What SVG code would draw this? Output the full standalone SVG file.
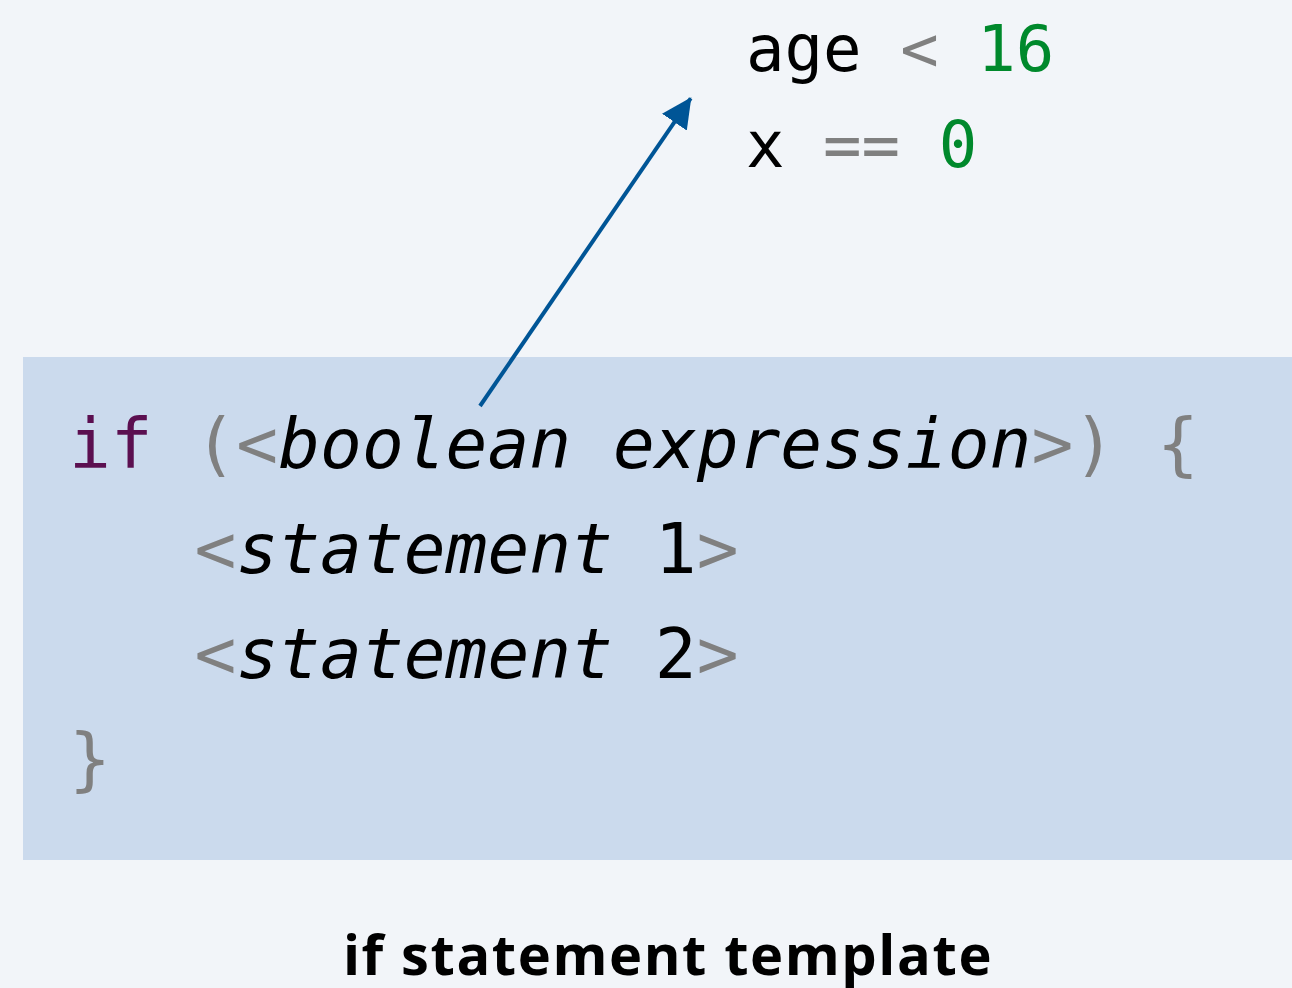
<svg xmlns="http://www.w3.org/2000/svg" width="1292" height="988" viewBox="0 0 1292 988">
<defs>
<style>
.code{font-family:"DejaVu Sans Mono",monospace;white-space:pre;fill:#000}
.big{font-size:69.5px}
.small{font-size:64px}
.kw{fill:#5b0f50}
.op{fill:#808080}
.num{fill:#00892c}
.it{font-style:italic}
.title{font-family:"Open Sans","Liberation Sans",sans-serif;font-weight:bold;font-size:56px;letter-spacing:1.6px;fill:#000}
.conn{stroke:#005596;stroke-width:4;fill:none}
</style>
<marker id="ah" markerUnits="userSpaceOnUse" markerWidth="30" markerHeight="30" viewBox="0 0 26 26" refX="25" refY="13" orient="auto">
<path d="M0,0 L26,13 L0,26 Z" fill="#005596"/>
</marker>
</defs>
<rect width="1292" height="988" fill="#f2f5f9"/>
<g id="template-box">
<rect x="23" y="357" width="1269" height="503" fill="#cbdaed"/>
<text class="code big" x="69" y="468"><tspan class="kw">if</tspan><tspan class="op"> (&lt;</tspan><tspan class="it">boolean expression</tspan><tspan class="op">&gt;) {</tspan></text>
<text class="code big" x="69" y="573"><tspan class="op">   &lt;</tspan><tspan class="it">statement</tspan> 1<tspan class="op">&gt;</tspan></text>
<text class="code big" x="69" y="678"><tspan class="op">   &lt;</tspan><tspan class="it">statement</tspan> 2<tspan class="op">&gt;</tspan></text>
<text class="code big op" x="69" y="783">}</text>
</g>
<g id="examples">
<text class="code small" x="746" y="70.5">age<tspan class="op"> &lt; </tspan><tspan class="num">16</tspan></text>
<text class="code small" x="746" y="166.5">x<tspan class="op"> == </tspan><tspan class="num">0</tspan></text>
</g>
<g id="caption">
<text class="title" x="668" y="975" text-anchor="middle">if statement template</text>
</g>
<g id="connectors">
<line class="conn" x1="480" y1="406" x2="690.7" y2="98.3" marker-end="url(#ah)"/>
</g>
</svg>
